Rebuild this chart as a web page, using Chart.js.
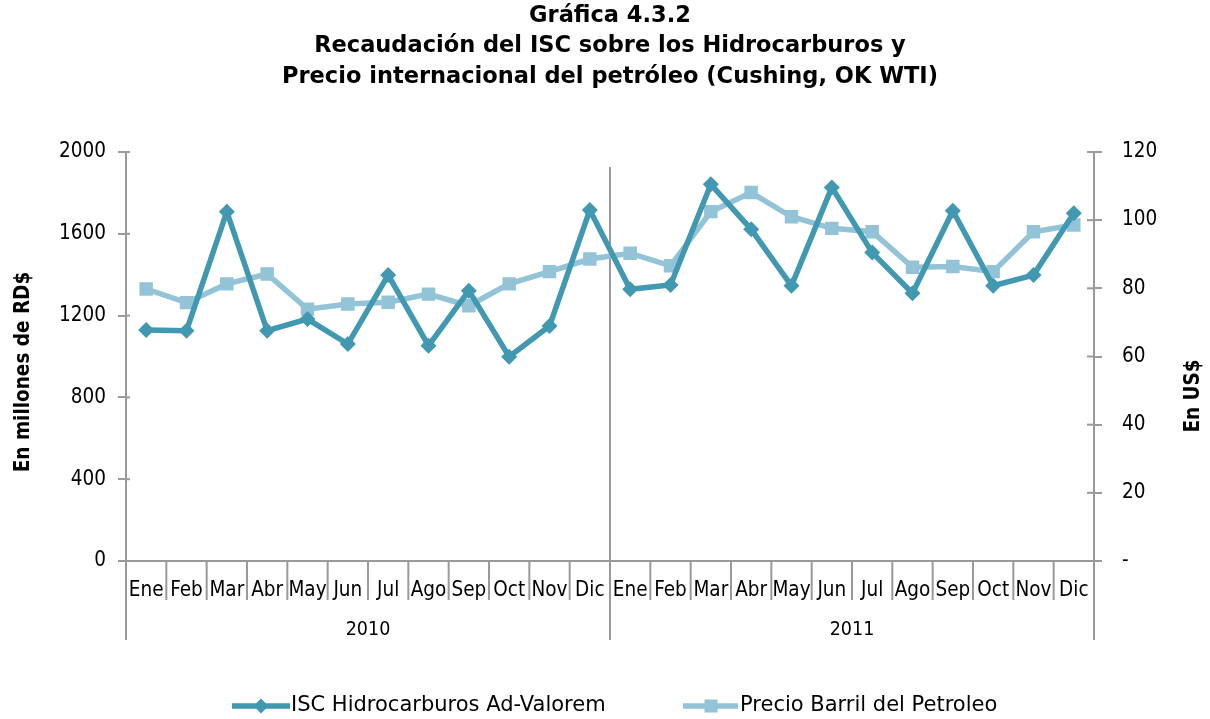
<!DOCTYPE html>
<html>
<head>
<meta charset="utf-8">
<script src="https://cdn.jsdelivr.net/npm/chart.js@4.4.0/dist/chart.umd.min.js"></script>
<style>
  html, body { margin: 0; padding: 0; background: #fff; }
  #wrap { width: 1210px; height: 719px; position: relative; }
</style>
</head>
<body>
<div id="wrap"><canvas id="grafica" width="1210" height="719"></canvas></div>
<script>
// meses y años del eje horizontal
var meses = ['Ene', 'Feb', 'Mar', 'Abr', 'May', 'Jun', 'Jul', 'Ago', 'Sep', 'Oct', 'Nov', 'Dic'];
var anios = ['2010', '2011'];

// recaudación ISC hidrocarburos ad-valorem (millones RD$)
var isc_2010 = [1130, 1126, 1708, 1126, 1183, 1061, 1398, 1053, 1322, 999, 1149, 1716];
var isc_2011 = [1329, 1350, 1842, 1622, 1346, 1827, 1508, 1309, 1713, 1346, 1398, 1700];

// precio barril WTI (US$)
var precio_2010 = [79.8, 75.8, 81.3, 84.2, 73.9, 75.4, 75.9, 78.3, 74.9, 81.3, 84.9, 88.6];
var precio_2011 = [90.3, 86.6, 102.5, 108.1, 101.0, 97.6, 96.6, 86.2, 86.4, 84.9, 96.6, 98.6];

var titulo = [
    'Gráfica 4.3.2',
    'Recaudación del ISC sobre los Hidrocarburos y',
    'Precio internacional del petróleo (Cushing, OK WTI)'
];
var nombre_isc = 'ISC Hidrocarburos Ad-Valorem';
var nombre_precio = 'Precio Barril del Petroleo';

var etiquetas = meses.concat(meses);
var isc = isc_2010.concat(isc_2011);
var precio = precio_2010.concat(precio_2011);

var color_isc = '#4198b1';
var color_precio = '#92c3d6';
var gris = '#9a9a9a';
var condensada = "'DejaVu Sans Condensed', 'DejaVu Sans', sans-serif";
var normal = "'DejaVu Sans', sans-serif";

function linea(ctx, x1, y1, x2, y2) {
    ctx.beginPath();
    ctx.moveTo(x1, y1);
    ctx.lineTo(x2, y2);
    ctx.stroke();
}

function rombo(ctx, x, y, r) {
    ctx.beginPath();
    ctx.moveTo(x, y - r);
    ctx.lineTo(x + r, y);
    ctx.lineTo(x, y + r);
    ctx.lineTo(x - r, y);
    ctx.closePath();
    ctx.fill();
}

// separadores, marcas internas, títulos y leyenda
var decoracion = {
    id: 'decoracion',
    beforeDatasetsDraw: function(chart) {
        var ctx = chart.ctx;
        var area = chart.chartArea;
        var paso = (area.right - area.left) / etiquetas.length;
        ctx.save();
        ctx.strokeStyle = gris;
        ctx.lineWidth = 2;

        // línea divisoria entre años dentro del gráfico
        var xm = area.left + 12 * paso;
        linea(ctx, xm, area.top + 15, xm, area.bottom);

        // separadores de meses y de años bajo el eje
        for (var i = 0; i <= etiquetas.length; i++) {
            var px = area.left + i * paso;
            var largo = (i % 12 === 0) ? 79 : 39;
            linea(ctx, px, area.bottom, px, area.bottom + largo);
        }

        // parte interna de las marcas de los ejes verticales
        var y = chart.scales.y, y1 = chart.scales.y1;
        y.ticks.forEach(function(t, k) {
            var py = y.getPixelForTick(k);
            linea(ctx, area.left, py, area.left + 4, py);
        });
        y1.ticks.forEach(function(t, k) {
            var py = y1.getPixelForTick(k);
            linea(ctx, area.right - 7, py, area.right, py);
        });

        ctx.fillStyle = '#000';
        ctx.textAlign = 'center';
        ctx.textBaseline = 'middle';

        // años
        ctx.font = '19.5px ' + condensada;
        anios.forEach(function(a, k) {
            ctx.fillText(a, area.left + (k * 12 + 6) * paso, 630);
        });

        // título
        ctx.font = 'bold 22.5px ' + normal;
        titulo.forEach(function(t, k) {
            ctx.fillText(t, 610, 16 + k * 30.5);
        });

        // títulos de los ejes
        ctx.font = 'bold 20.5px ' + condensada;
        ctx.save();
        ctx.translate(24, 372);
        ctx.rotate(-Math.PI / 2);
        ctx.fillText('En millones de RD$', 0, 0);
        ctx.restore();
        ctx.save();
        ctx.translate(1194, 396);
        ctx.rotate(-Math.PI / 2);
        ctx.fillText('En US$', 0, 0);
        ctx.restore();

        // leyenda
        var ly = 706;
        ctx.lineWidth = 5.5;
        ctx.strokeStyle = color_isc;
        ctx.fillStyle = color_isc;
        linea(ctx, 232, ly, 290, ly);
        rombo(ctx, 261, ly, 7.5);
        ctx.strokeStyle = color_precio;
        ctx.fillStyle = color_precio;
        linea(ctx, 683, ly, 738, ly);
        ctx.fillRect(711 - 6.5, ly - 6.5, 13, 13);

        ctx.fillStyle = '#000';
        ctx.textAlign = 'left';
        ctx.font = '21px ' + normal;
        ctx.fillText(nombre_isc, 291, ly);
        ctx.fillText(nombre_precio, 740, ly);
        ctx.restore();
    }
};

var grafica = new Chart(document.getElementById('grafica'), {
    type: 'line',
    data: {
        labels: etiquetas,
        datasets: [{
            label: nombre_isc,
            data: isc,
            yAxisID: 'y',
            borderColor: color_isc,
            backgroundColor: color_isc,
            borderWidth: 5.5,
            pointStyle: 'rectRot',
            pointRadius: 8,
            pointBorderWidth: 0,
            tension: 0,
            fill: false
        }, {
            label: nombre_precio,
            data: precio,
            yAxisID: 'y1',
            borderColor: color_precio,
            backgroundColor: color_precio,
            borderWidth: 5.5,
            pointStyle: 'rect',
            pointRadius: 9.5,
            pointBorderWidth: 0,
            tension: 0,
            fill: false
        }]
    },
    options: {
        responsive: false,
        animation: false,
        devicePixelRatio: 1,
        layout: { padding: { top: 152, left: 0, right: 0, bottom: 0 } },
        plugins: {
            legend: { display: false },
            title: { display: false },
            tooltip: { enabled: false }
        },
        scales: {
            x: {
                type: 'category',
                offset: true,
                grid: { display: false },
                border: { display: true, color: gris, width: 2 },
                ticks: {
                    autoSkip: false,
                    maxRotation: 0,
                    padding: 9,
                    color: '#000',
                    font: { family: condensada, size: 20.5 }
                },
                afterFit: function(s) { s.height = 158; }
            },
            y: {
                position: 'left',
                min: 0,
                max: 2000,
                ticks: {
                    stepSize: 400,
                    padding: 12,
                    color: '#000',
                    font: { family: condensada, size: 20.5 },
                    callback: function(v) { return String(v); }
                },
                grid: { drawOnChartArea: false, tickLength: 8, color: gris, lineWidth: 2 },
                border: { display: true, color: gris, width: 2 },
                afterFit: function(s) { s.width = 126; }
            },
            y1: {
                position: 'right',
                min: 0,
                max: 120,
                ticks: {
                    stepSize: 20,
                    padding: 20,
                    color: '#000',
                    font: { family: condensada, size: 20.5 },
                    callback: function(v) { return v === 0 ? '-' : String(v); }
                },
                grid: { drawOnChartArea: false, tickLength: 8, color: gris, lineWidth: 2 },
                border: { display: true, color: gris, width: 2 },
                afterFit: function(s) { s.width = 116; }
            }
        }
    },
    plugins: [decoracion]
});
</script>
</body>
</html>
